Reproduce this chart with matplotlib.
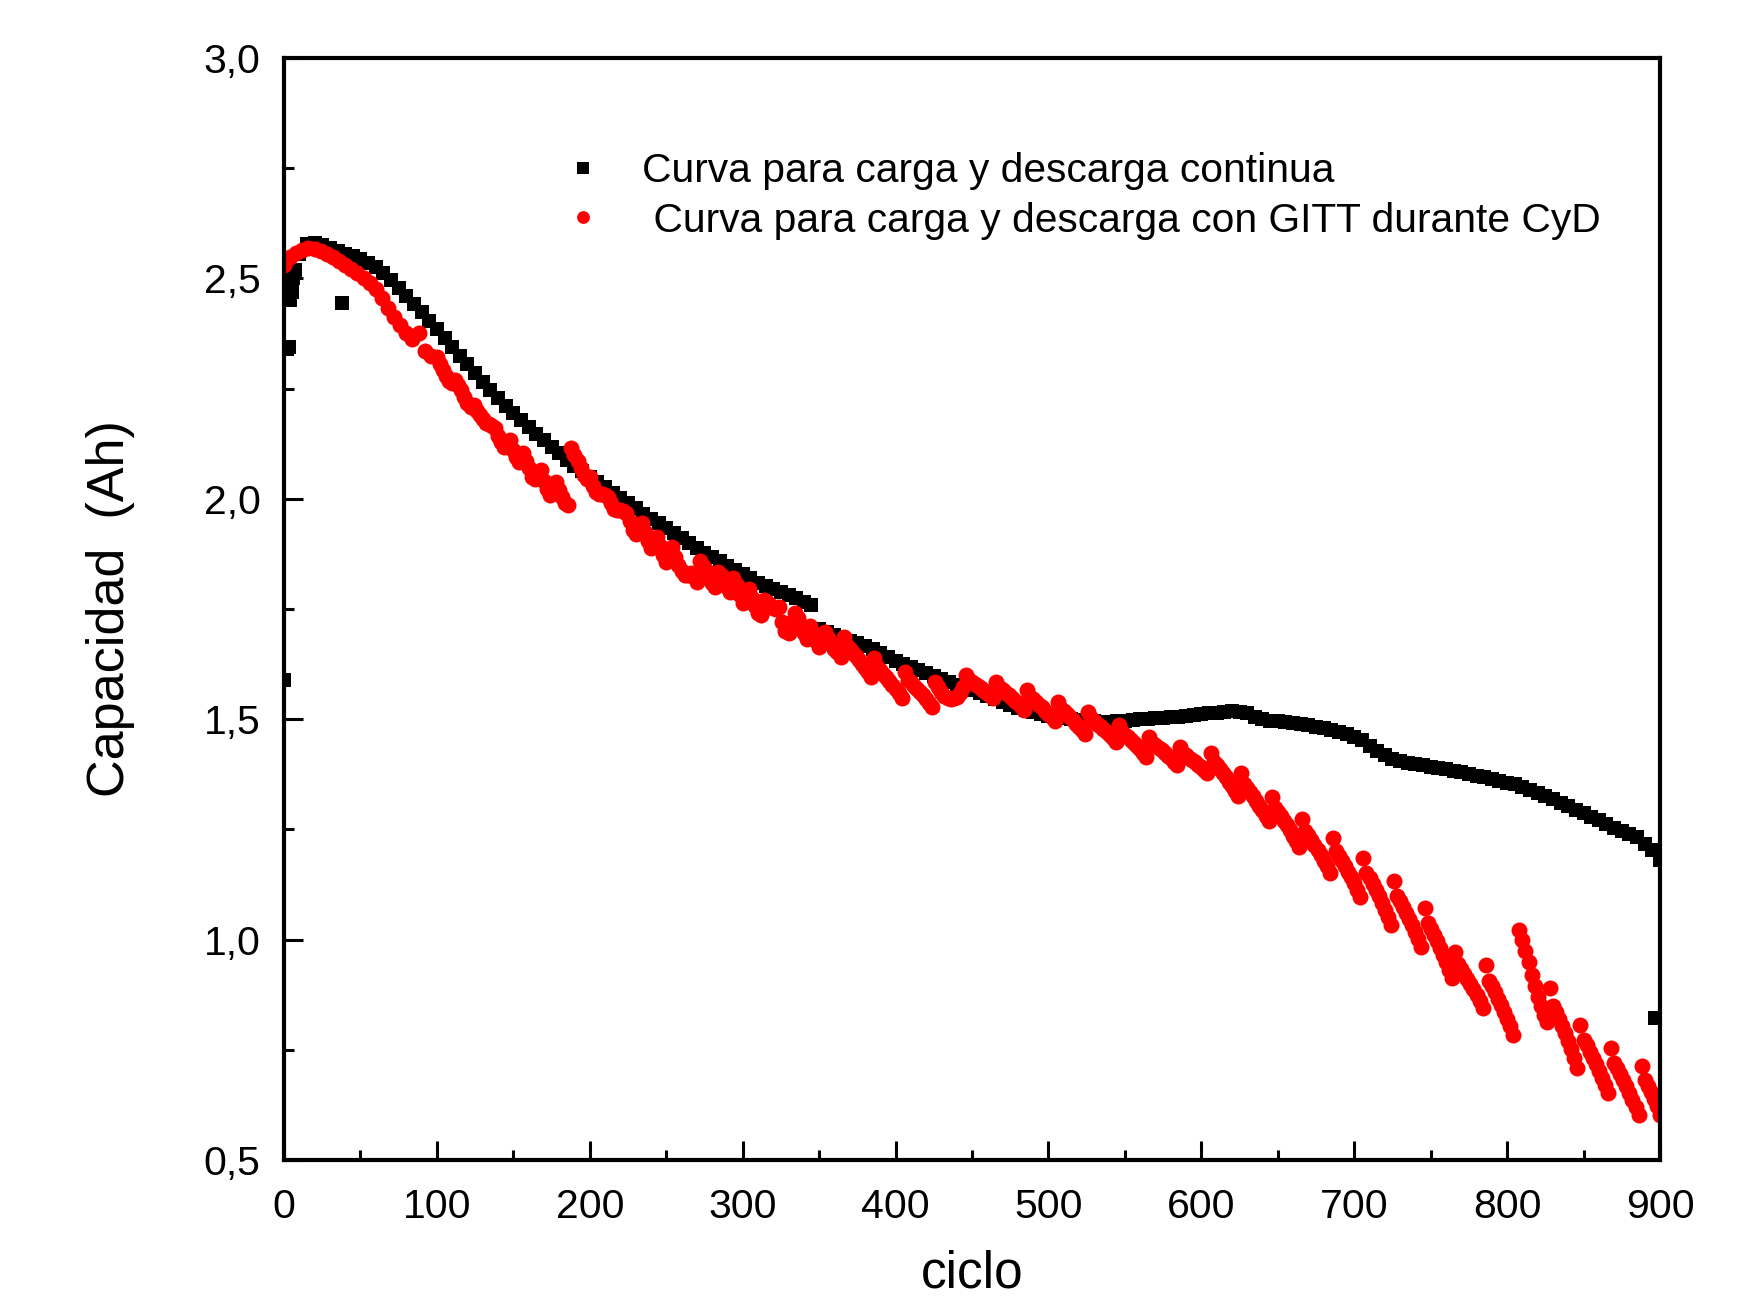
import numpy as np
import matplotlib
matplotlib.use('Agg')
import matplotlib.pyplot as plt
from matplotlib.ticker import MultipleLocator

plt.rcParams['font.family'] = ['Liberation Sans', 'DejaVu Sans']

# curva continua: puntos sueltos del arranque y el valor aislado al final
black_extra_ciclo = [0, 2, 3, 4, 5, 6, 7, 38, 897]
black_extra_cap = [1.59, 2.34, 2.345, 2.45, 2.47, 2.50, 2.52, 2.445, 0.822]

# curva continua, cada 5 ciclos desde 10 hasta 900
black_ciclo = np.arange(10, 901, 5)
black_cap = [
    2.555, 2.578, 2.580, 2.575, 2.568, 2.562, 2.556, 2.550, 2.543, 2.535,
    2.525, 2.512, 2.496, 2.478, 2.460, 2.442, 2.423, 2.404, 2.385, 2.365,
    2.345, 2.325, 2.305, 2.285, 2.265, 2.246, 2.228, 2.211, 2.195, 2.179,
    2.163, 2.148, 2.133, 2.118, 2.103, 2.089, 2.075, 2.062, 2.050, 2.038,
    2.026, 2.014, 2.002, 1.990, 1.978, 1.966, 1.955, 1.944, 1.933, 1.922,
    1.911, 1.900, 1.889, 1.878, 1.868, 1.858, 1.848, 1.839, 1.830, 1.821,
    1.810, 1.802, 1.795, 1.788, 1.781, 1.774, 1.767, 1.760, 1.705, 1.697,
    1.690, 1.684, 1.678, 1.672, 1.666, 1.660, 1.651, 1.642, 1.633, 1.626,
    1.619, 1.612, 1.605, 1.598, 1.591, 1.584, 1.578, 1.572, 1.566, 1.559,
    1.552, 1.545, 1.538, 1.532, 1.526, 1.521, 1.516, 1.512, 1.508, 1.505,
    1.502, 1.500, 1.498, 1.496, 1.495, 1.494, 1.494, 1.495, 1.497, 1.499,
    1.500, 1.501, 1.502, 1.503, 1.504, 1.505, 1.507, 1.509, 1.511, 1.513,
    1.515, 1.517, 1.518, 1.517, 1.513, 1.506, 1.500, 1.497, 1.495, 1.493,
    1.491, 1.489, 1.486, 1.483, 1.480, 1.476, 1.471, 1.466, 1.460, 1.452,
    1.440, 1.428, 1.418, 1.410, 1.405, 1.401, 1.398, 1.395, 1.392, 1.389,
    1.386, 1.383, 1.380, 1.376, 1.372, 1.368, 1.364, 1.360, 1.356, 1.352,
    1.346, 1.340, 1.333, 1.326, 1.318, 1.310, 1.302, 1.294, 1.287, 1.279,
    1.271, 1.262, 1.253, 1.247, 1.240, 1.232, 1.216, 1.203, 1.180,
]

# curva con GITT: cada 4 ciclos de 0 a 96
red_ciclo_a = np.arange(0, 97, 4)
red_cap_a = [
    2.530, 2.548, 2.557, 2.565, 2.568,
    2.566, 2.562, 2.556, 2.549, 2.540,
    2.530, 2.522, 2.512, 2.500, 2.489,
    2.475, 2.456, 2.432, 2.413, 2.395,
    2.375, 2.362, 2.376, 2.335, 2.325,
]

# curva con GITT: cada 2 ciclos de 100 a 358
red_ciclo_a2 = np.arange(100, 359, 2)
red_cap_a2 = [
    2.322, 2.305, 2.292, 2.278, 2.268, 2.262, 2.270, 2.258, 2.246, 2.232,
    2.218, 2.208, 2.212, 2.200, 2.190, 2.180, 2.172, 2.170, 2.165, 2.160,
    2.142, 2.128, 2.118, 2.124, 2.133, 2.110, 2.095, 2.083, 2.103, 2.085,
    2.070, 2.050, 2.046, 2.058, 2.065, 2.040, 2.022, 2.009, 2.025, 2.039,
    2.020, 2.003, 1.990, 1.986, 2.115, 2.100, 2.085, 2.070, 2.055, 2.045,
    2.050, 2.030, 2.015, 2.010, 2.012, 2.008, 2.005, 1.990, 1.976, 1.975,
    1.975, 1.972, 1.967, 1.950, 1.930, 1.920, 1.935, 1.944, 1.925, 1.905,
    1.888, 1.900, 1.914, 1.893, 1.872, 1.856, 1.872, 1.891, 1.868, 1.850,
    1.836, 1.826, 1.827, 1.832, 1.822, 1.812, 1.858, 1.848, 1.838, 1.822,
    1.808, 1.801, 1.835, 1.826, 1.812, 1.800, 1.789, 1.820, 1.805, 1.782,
    1.763, 1.770, 1.795, 1.775, 1.756, 1.740, 1.736, 1.770, 1.765, 1.760,
    1.752, 1.750, 1.755, 1.720, 1.700, 1.695, 1.720, 1.740, 1.730, 1.712,
    1.695, 1.682, 1.712, 1.695, 1.678, 1.663, 1.672, 1.698, 1.685, 1.670,
]

# curva con GITT: cada 2 ciclos de 360 a 804 (dientes de ~20 ciclos)
red_ciclo_b = np.arange(360, 805, 2)
red_cap_b = [
    1.660, 1.652, 1.642,
    1.687, 1.667, 1.659, 1.651, 1.643, 1.635, 1.625, 1.616, 1.606, 1.595,
    1.638, 1.618, 1.611, 1.603, 1.595, 1.587, 1.578, 1.569, 1.560, 1.549,
    1.608, 1.590, 1.584, 1.576, 1.569, 1.562, 1.554, 1.546, 1.537, 1.527,
    1.585, 1.572, 1.561, 1.553, 1.548, 1.546, 1.547, 1.551, 1.559, 1.572,
    1.600, 1.589, 1.584, 1.580, 1.575, 1.570, 1.565, 1.560, 1.554, 1.548,
    1.585, 1.571, 1.566, 1.560, 1.554, 1.549, 1.542, 1.536, 1.529, 1.521,
    1.567, 1.551, 1.546, 1.539, 1.533, 1.527, 1.519, 1.512, 1.505, 1.496,
    1.540, 1.524, 1.518, 1.511, 1.504, 1.498, 1.490, 1.483, 1.475, 1.466,
    1.517, 1.502, 1.497, 1.490, 1.484, 1.478, 1.471, 1.465, 1.457, 1.449,
    1.487, 1.471, 1.465, 1.459, 1.452, 1.446, 1.439, 1.432, 1.424, 1.415,
    1.460, 1.446, 1.441, 1.435, 1.429, 1.424, 1.417, 1.411, 1.404, 1.396,
    1.436, 1.423, 1.418, 1.413, 1.408, 1.402, 1.396, 1.391, 1.384, 1.377,
    1.424, 1.402, 1.395, 1.386, 1.377, 1.368, 1.358, 1.349, 1.338, 1.326,
    1.377, 1.353, 1.344, 1.334, 1.325, 1.315, 1.304, 1.293, 1.281, 1.268,
    1.324, 1.299, 1.290, 1.280, 1.269, 1.259, 1.248, 1.236, 1.224, 1.210,
    1.274, 1.247, 1.237, 1.226, 1.215, 1.204, 1.192, 1.179, 1.166, 1.151,
    1.230, 1.201, 1.190, 1.178, 1.166, 1.154, 1.141, 1.128, 1.113, 1.097,
    1.185, 1.152, 1.139, 1.126, 1.112, 1.098, 1.083, 1.068, 1.051, 1.033,
    1.133, 1.100, 1.088, 1.074, 1.061, 1.047, 1.032, 1.017, 1.001, 0.983,
    1.072, 1.037, 1.024, 1.010, 0.996, 0.981, 0.965, 0.950, 0.932, 0.913,
    0.972, 0.944, 0.934, 0.922, 0.911, 0.900, 0.887, 0.874, 0.860, 0.845,
    0.942, 0.907, 0.895, 0.880, 0.866, 0.852, 0.836, 0.820, 0.803, 0.784,
]

# curva con GITT: cada 2 ciclos de 808 a 900 (tramo tras el salto)
red_ciclo_c = np.arange(808, 901, 2)
red_cap_c = [
    1.022, 1.000, 0.975, 0.950, 0.920, 0.895, 0.870, 0.850, 0.830, 0.813,
    0.890, 0.850, 0.836, 0.819, 0.803, 0.787, 0.769, 0.751, 0.731, 0.709,
    0.806, 0.772, 0.760, 0.746, 0.732, 0.718, 0.703, 0.687, 0.670, 0.652,
    0.754, 0.721, 0.708, 0.695, 0.681, 0.667, 0.652, 0.637, 0.620, 0.602,
    0.713, 0.681, 0.668, 0.654, 0.639, 0.622, 0.603,
]

x_ticks = [0, 100, 200, 300, 400, 500, 600, 700, 800, 900]
y_ticks = [0.5, 1.0, 1.5, 2.0, 2.5, 3.0]
y_tick_labels = ['0,5', '1,0', '1,5', '2,0', '2,5', '3,0']

red_ciclo = np.concatenate([red_ciclo_a, red_ciclo_a2, red_ciclo_b, red_ciclo_c])
red_cap = red_cap_a + red_cap_a2 + red_cap_b + red_cap_c

fig = plt.figure(figsize=(17.51, 13.03), dpi=100)
ax = fig.add_axes([284 / 1751, 1 - 1160 / 1303, 1376 / 1751, 1102 / 1303])

ax.plot(black_ciclo, black_cap, 's', color='black', markersize=10.5, markeredgewidth=0,
        label='Curva para carga y descarga continua')
ax.plot(black_extra_ciclo, black_extra_cap, 's', color='black', markersize=10, markeredgewidth=0)
ax.plot(red_ciclo, red_cap, 'o', color='red', markersize=11.5, markeredgewidth=0,
        label=' Curva para carga y descarga con GITT durante CyD')

ax.set_xlim(0, 900)
ax.set_ylim(0.5, 3.0)
ax.set_xticks(x_ticks)
ax.set_yticks(y_ticks)
ax.set_yticklabels(y_tick_labels)
ax.xaxis.set_minor_locator(MultipleLocator(50))
ax.yaxis.set_minor_locator(MultipleLocator(0.25))
ax.tick_params(which='both', direction='in', top=False, right=False, width=2.2, labelsize=29.5)
ax.tick_params(axis='x', which='major', length=14, pad=20)
ax.tick_params(axis='y', which='major', length=14, pad=17)
ax.tick_params(which='minor', length=7)
for s in ax.spines.values():
    s.set_linewidth(3)

ax.set_xlabel('ciclo', fontsize=37, labelpad=17)
ax.set_ylabel('Capacidad  (Ah)', fontsize=37.5, labelpad=49)

ax.legend(loc='upper left', bbox_to_anchor=(0.3215, 0.8835), bbox_transform=fig.transFigure,
          frameon=False, fontsize=29.3, numpoints=1, handlelength=1.0, handletextpad=0.95,
          borderpad=0, borderaxespad=0, labelspacing=0.29, markerscale=0.8)

fig.savefig('out.png', dpi=100)
